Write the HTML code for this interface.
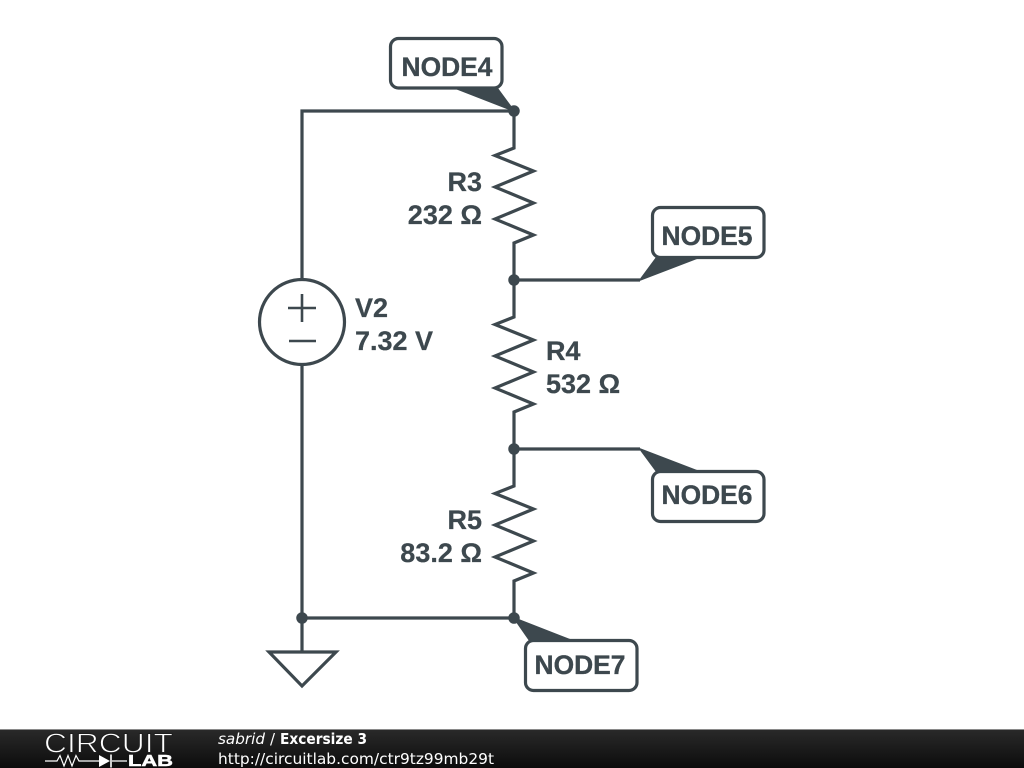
<!DOCTYPE html>
<html><head><meta charset="utf-8"><style>
html,body{margin:0;padding:0;background:#fff;width:1024px;height:768px;overflow:hidden}
svg{display:block}
text.l{font-family:"Liberation Sans",sans-serif;font-weight:bold;font-size:27px;fill:#3d484e;stroke:#3d484e;stroke-width:.25}
text.n{font-family:"Liberation Sans",sans-serif;font-weight:bold;font-size:26.4px;fill:#3d484e;stroke:#3d484e;stroke-width:.35;text-anchor:middle}
text.f{font-family:"DejaVu Sans",sans-serif;fill:#fff}
</style></head><body>
<svg width="1024" height="768" viewBox="0 0 1024 768" xmlns="http://www.w3.org/2000/svg">
<defs><linearGradient id="g" x1="0" y1="0" x2="0" y2="1"><stop offset="0" stop-color="#2a2a2a"/><stop offset="1" stop-color="#0c0c0c"/></linearGradient></defs>
<rect width="1024" height="768" fill="#fff"/>
<g fill="none" stroke="#3d484e" stroke-width="3.2" stroke-linejoin="miter">
<path d="M514 111H302V279M302 365V652M302 618H514M514 111V148L495 155.500L533.500 171L495 187L533.500 203L495 219L533.500 235L514 243V317L495 324.500L533.500 340L495 356L533.500 372L495 388L533.500 404L514 412V486L495 493.500L533.500 509L495 525L533.500 541L495 557L533.500 573L514 581V618"/>
<path d="M514 280H640M514 449H640"/>
<circle cx="302" cy="322" r="42.500"/>
<g stroke-width="2.600"><path d="M288 308H316M302 294V322M289 341H316"/></g>
<path d="M269 652H336L302 686Z"/>
<rect x="390.500" y="38.500" width="111.500" height="49.500" rx="8" fill="#fff"/>
<rect x="652.500" y="207.500" width="111.500" height="50" rx="8" fill="#fff"/>
<rect x="652.500" y="471.500" width="111.500" height="50" rx="8" fill="#fff"/>
<rect x="525.500" y="640.500" width="111.500" height="50" rx="8" fill="#fff"/>
</g>
<g fill="#3d484e" stroke="#3d484e" stroke-width="1.500" stroke-linejoin="round">
<circle cx="514" cy="111" r="5"/><circle cx="514" cy="280" r="5"/><circle cx="514" cy="449" r="5"/><circle cx="514" cy="618" r="5"/><circle cx="302" cy="618" r="5"/>
<path d="M455 88H497L514 111ZM657 257H700L640 280ZM657 472H700L640 449ZM530 641H573L514 618Z"/>
</g>
<text class="n" x="447" y="76">NODE4</text>
<text class="n" x="707" y="245">NODE5</text>
<text class="n" x="707" y="504">NODE6</text>
<text class="n" x="580" y="674">NODE7</text>
<text class="l" x="482" y="191" text-anchor="end">R3</text>
<text class="l" x="482" y="224" text-anchor="end">232 Ω</text>
<text class="l" x="546" y="360">R4</text>
<text class="l" x="546" y="393">532 Ω</text>
<text class="l" x="482" y="529" text-anchor="end">R5</text>
<text class="l" x="482" y="562" text-anchor="end">83.2 Ω</text>
<text class="l" x="355" y="317">V2</text>
<text class="l" x="355" y="350">7.32 V</text>
<rect y="729" width="1024" height="39" fill="url(#g)"/>
<rect y="729" width="1024" height="1" fill="#8a8a8a"/>
<text x="44" y="752.500" font-family="Liberation Sans,sans-serif" font-size="27.500" fill="#fff" stroke="#1e1e1e" stroke-width=".9" textLength="129" lengthAdjust="spacingAndGlyphs">CIRCUIT</text>
<path d="M45 761H57L60 755.500L64 766L68 755.500L72 766L76 755.500L79 761H99M112 761H127" fill="none" stroke="#fff" stroke-width="1.200"/>
<path d="M99 755V767L110 761Z" fill="#fff"/><path d="M111 754.500V767.500" stroke="#fff" stroke-width="1.600"/>
<text x="128" y="766" font-family="Liberation Sans,sans-serif" font-weight="bold" font-size="15.500" fill="#fff" stroke="#fff" stroke-width=".5" textLength="45" lengthAdjust="spacingAndGlyphs">LAB</text>
<text class="f" x="218" y="744" font-size="15.300" font-style="italic" textLength="47" lengthAdjust="spacingAndGlyphs">sabrid</text>
<text class="f" x="270" y="744" font-size="15">/</text>
<text class="f" x="280" y="744" font-size="14.800" font-weight="bold" textLength="87" lengthAdjust="spacingAndGlyphs">Excersize 3</text>
<text class="f" x="218" y="764" font-size="15.400" textLength="276" lengthAdjust="spacingAndGlyphs">http://circuitlab.com/ctr9tz99mb29t</text>
</svg>
</body></html>
